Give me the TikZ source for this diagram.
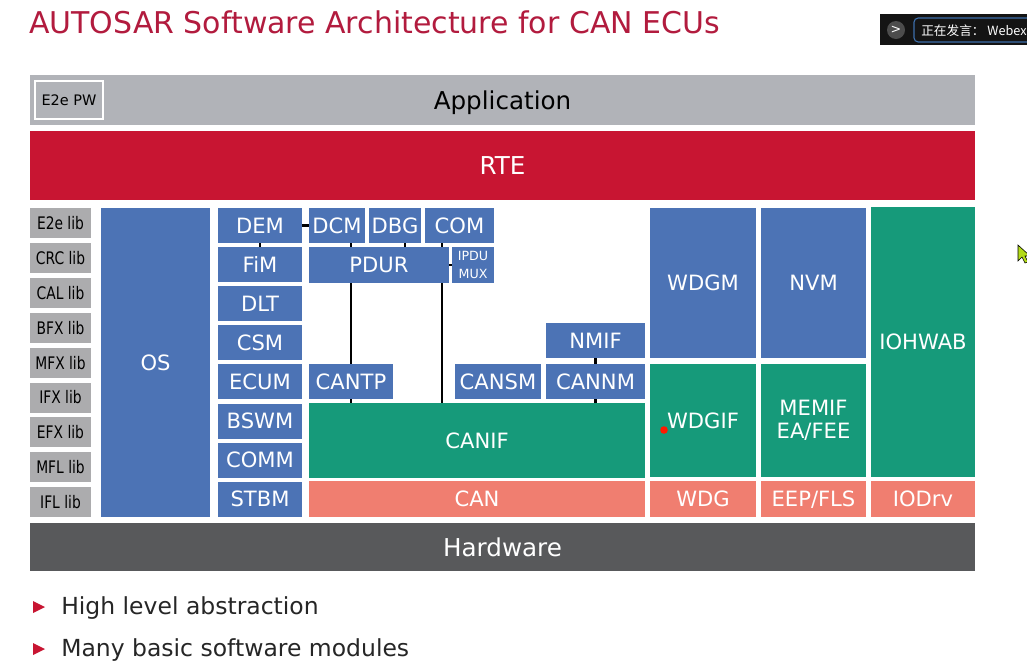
\documentclass[tikz,border=0pt]{standalone}
\usepackage{fontspec}
\setmainfont{DejaVu Sans}
\newfontfamily\cjk{Noto Sans CJK SC}
\newfontfamily\narrowfont[FakeStretch=0.8]{DejaVu Sans}
\usetikzlibrary{calc}

\definecolor{swblue}{RGB}{76,115,181}
\definecolor{swgreen}{RGB}{22,154,122}
\definecolor{swsalmon}{RGB}{240,126,112}
\definecolor{rtered}{RGB}{200,21,50}
\definecolor{appgray}{RGB}{177,179,184}
\definecolor{libgray}{RGB}{172,172,174}
\definecolor{hwgray}{RGB}{88,89,91}
\definecolor{titlered}{RGB}{178,27,62}
\definecolor{webexblue}{RGB}{60,110,170}

% block from corner (#3,#4) to corner (#5,#6), in pixel units
\newcommand{\modblock}[7][]{%
  \pgfmathsetmacro{\bw}{(#5-#3)*0.025}%
  \pgfmathsetmacro{\bh}{(#6-#4)*0.025}%
  \node[#1, minimum width=\bw cm, minimum height=\bh cm] (#2)
    at ({(#3+#5)/2},{(#4+#6)/2}) {#7};%
}

\begin{document}
\begin{tikzpicture}[x=0.025cm, y=-0.025cm,
  blk/.style={inner sep=0pt, outer sep=0pt, text=white, align=center,
    font=\fontsize{15}{16}\selectfont},
  svc/.style={blk, fill=swblue},
  hwab/.style={blk, fill=swgreen},
  drv/.style={blk, fill=swsalmon},
  libbox/.style={blk, fill=libgray, text=black,
    font=\narrowfont\fontsize{12.3}{13}\selectfont},
  layer/.style={blk, font=\fontsize{17.5}{19}\selectfont},
  link/.style={line width=2pt},
  bullet/.style={anchor=base west, inner sep=0pt, text=black!85,
    font=\fontsize{16.7}{18}\selectfont}]

  \useasboundingbox (0,0) rectangle (1027,660);
  \fill[white] (0,0) rectangle (1027,660);

  % === Title ===
  \node[anchor=base west, inner sep=0pt, text=titlered,
    font=\fontsize{21.3}{23}\selectfont] (title) at (29,33)
    {AUTOSAR Software Architecture for CAN ECUs};

  % === Top layers ===
  \modblock[layer, fill=appgray, text=black, text depth=0pt]{app}{30}{75}{975}{125}{Application}
  \modblock[blk, draw=white, line width=1pt, text=black, font=\fontsize{10.3}{11}\selectfont]{e2epw}{35}{81}{103}{119}{E2e PW}
  \modblock[layer, fill=rtered]{rte}{30}{131}{975}{200}{RTE}
  \modblock[layer, fill=hwgray]{hw}{30}{523}{975}{571}{Hardware}

  % === Libraries ===
  \foreach \lbl [count=\i from 0] in {E2e,CRC,CAL,BFX,MFX,IFX,EFX,MFL,IFL} {
    \pgfmathsetmacro{\ytop}{208+34.9*\i}
    \modblock[libbox]{lib\i}{30}{\ytop}{91}{\ytop+30}{\lbl{} lib}
  }

  % === OS ===
  \modblock[svc]{os}{101}{208}{210}{517}{OS}

  % === Services column ===
  \foreach \lbl/\nm [count=\i from 0] in {DEM/dem,FiM/fim,DLT/dlt,CSM/csm,ECUM/ecum,BSWM/bswm,COMM/comm,STBM/stbm} {
    \pgfmathsetmacro{\ytop}{208+39.1*\i}
    \modblock[svc]{\nm}{218}{\ytop}{302}{\ytop+35}{\lbl}
  }

  % === Communication stack ===
  \modblock[svc]{dcm}{309}{208}{365}{243}{DCM}
  \modblock[svc]{dbg}{369}{208}{421}{243}{DBG}
  \modblock[svc]{com}{425}{208}{494}{243}{COM}
  \modblock[svc]{pdur}{309}{247}{449}{283}{PDUR}
  \modblock[svc, font=\fontsize{9}{10.5}\selectfont]{ipdum}{452}{247}{494}{283}{IPDU\\[2.5pt]MUX}
  \modblock[svc]{nmif}{546}{323}{645}{358}{NMIF}
  \modblock[svc]{cantp}{309}{364}{393}{399}{CANTP}
  \modblock[svc]{cansm}{455}{364}{541}{399}{CANSM}
  \modblock[svc]{cannm}{546}{364}{645}{399}{CANNM}
  \modblock[hwab]{canif}{309}{403}{645}{478}{CANIF}
  \modblock[drv]{can}{309}{481}{645}{517}{CAN}

  % === Watchdog / memory / IO ===
  \modblock[svc]{wdgm}{650}{208}{756}{358}{WDGM}
  \modblock[svc]{nvm}{761}{208}{866}{358}{NVM}
  \modblock[hwab]{iohwab}{871}{207}{975}{477}{IOHWAB}
  \modblock[hwab]{wdgif}{650}{364}{756}{477}{WDGIF}
  \modblock[hwab]{memif}{761}{364}{866}{477}{MEMIF\\EA/FEE}
  \modblock[drv]{wdg}{650}{481}{756}{517}{WDG}
  \modblock[drv, text depth=0pt]{eep}{761}{481}{866}{517}{EEP/FLS}
  \modblock[drv]{iodrv}{871}{481}{975}{517}{IODrv}

  % === Connections ===
  \coordinate (tapdbg) at (405,0);
  \coordinate (tapcom) at (442,0);
  \draw[link] (dem.east) -- (dcm.west);
  \draw[link] (dem.south) -- (fim.north);
  \draw[link] (dcm.south -| cantp.north) -- (pdur.north -| cantp.north);
  \draw[link] (tapdbg |- dbg.south) -- (tapdbg |- pdur.north);
  \draw[link] (tapcom |- com.south) -- (tapcom |- pdur.north);
  \draw[link] (pdur.east) -- (ipdum.west);
  \draw[link] (pdur.south -| cantp.north) -- (cantp.north);
  \draw[link] (tapcom |- pdur.south) -- (tapcom |- canif.north);
  \draw[link] (cantp.south) -- (cantp.south |- canif.north);
  \draw[link] (nmif.south) -- (cannm.north);
  \draw[link] (cannm.south) -- (cannm.south |- canif.north);

  % laser pointer dot
  \fill[red!80!orange] (664,430) circle (3.8);

  % === Bullets ===
  \foreach \yb in {607,649} {
    \fill[rtered] (33,\yb-6) -- (45,\yb) -- (33,\yb+6) -- cycle;
  }
  \node[bullet] (pt1) at (61,614) {High level abstraction};
  \node[bullet] (pt2) at (61,656) {Many basic software modules};

  % === Webex overlay and cursor ===
  \begin{scope}
    \clip (0,0) rectangle (1027,660);
    \fill[black!92] (880,14) rectangle (1040,45);
    \fill[black!70] (896,30) circle (9);
    \node[text=white, inner sep=0pt, font=\fontsize{9}{10}\selectfont] (more) at (896,30) {>};
    \draw[webexblue, line width=0.8pt, rounded corners=3] (914,18) rectangle (1045,42);
    \node[anchor=base west, inner sep=0pt, text=white, font=\cjk\fontsize{9}{10}\selectfont]
      (speaker) at (921,35) {正在发言：\ Webex};
    \filldraw[fill=yellow!70!green, draw=black, line width=0.4pt]
      (1018,245) -- (1018,261) -- (1022,257) -- (1025,263) -- (1028,262)
      -- (1025,256) -- (1030,256) -- cycle;
  \end{scope}

\end{tikzpicture}
\end{document}
